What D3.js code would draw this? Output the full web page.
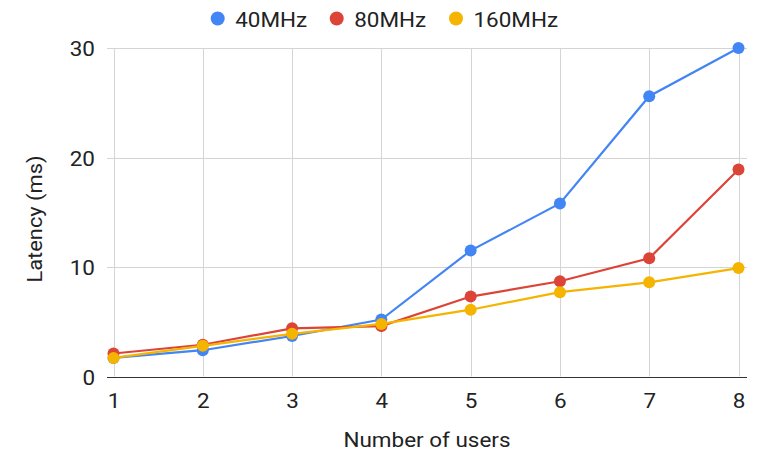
<!DOCTYPE html>
<html>
<head>
<meta charset="utf-8">
<script src="https://cdn.jsdelivr.net/npm/d3@7"></script>
<style>
  html, body { margin: 0; padding: 0; background: #fff; }
  svg { display: block; font-family: Roboto, Arial, sans-serif; }
</style>
</head>
<body>
<svg id="chart" width="764" height="451"></svg>
<script>
// Number of users on the x axis
const users = [1, 2, 3, 4, 5, 6, 7, 8];
// Latency (ms) per channel width
const lat40 = [1.7, 2.4, 3.7, 5.2, 11.5, 15.8, 25.6, 30.0];
const lat80 = [2.1, 2.9, 4.4, 4.6, 7.3, 8.7, 10.8, 18.9];
const lat160 = [1.7, 2.8, 3.9, 4.8, 6.1, 7.7, 8.6, 9.9];
const seriesNames = ["40MHz", "80MHz", "160MHz"];
const seriesColors = ["#4285f4", "#db4437", "#f4b400"];
const yTicks = [0, 10, 20, 30];

const series = [lat40, lat80, lat160].map((vals, i) => ({
  name: seriesNames[i], color: seriesColors[i],
  points: users.map((u, j) => ({ x: u, y: vals[j] }))
}));

const FONT = 21;
const STRETCH = "scale(1.07,1)";
const TEXT = "#222";

const svg = d3.select("#chart");
const plot = { left: 107, right: 747, top: 48, bottom: 376.5 };

const x = d3.scaleLinear().domain([1, 8]).range([113.5, 738.5]);
const y = d3.scaleLinear().domain([0, 30]).range([plot.bottom, plot.top]);

// Horizontal gridlines
svg.append("g")
  .selectAll("line")
  .data(yTicks.filter(t => t !== 0))
  .join("line")
  .attr("x1", plot.left).attr("x2", plot.right)
  .attr("y1", d => Math.round(y(d)) + 0.5).attr("y2", d => Math.round(y(d)) + 0.5)
  .attr("stroke", "#d4d4d4").attr("stroke-width", 1);

// Vertical gridlines
svg.append("g")
  .selectAll("line")
  .data(users)
  .join("line")
  .attr("x1", d => Math.round(x(d)) + 0.5).attr("x2", d => Math.round(x(d)) + 0.5)
  .attr("y1", plot.top).attr("y2", plot.bottom)
  .attr("stroke", "#d4d4d4").attr("stroke-width", 1);

// Baseline
svg.append("line")
  .attr("x1", plot.left).attr("x2", plot.right)
  .attr("y1", Math.round(y(0)) + 0.5).attr("y2", Math.round(y(0)) + 0.5)
  .attr("stroke", "#333").attr("stroke-width", 1);

// Y tick labels
const yAxis = d3.axisLeft(y).tickValues(yTicks).tickSize(0).tickPadding(0);
const yg = svg.append("g").attr("transform", "translate(95,0)").call(yAxis);
yg.select(".domain").remove();
yg.selectAll("text")
  .attr("x", 0).attr("dy", "0.36em")
  .attr("transform", STRETCH)
  .attr("font-size", FONT).attr("fill", TEXT).attr("font-family", "Roboto, Arial, sans-serif");

// X tick labels
const xAxis = d3.axisBottom(x).tickValues(users).tickFormat(d3.format("d")).tickSize(0).tickPadding(0);
const xg = svg.append("g").attr("transform", "translate(0,407.5)").call(xAxis);
xg.select(".domain").remove();
xg.selectAll("text")
  .attr("y", 0).attr("dy", 0)
  .attr("transform", STRETCH)
  .attr("font-size", FONT).attr("fill", TEXT).attr("font-family", "Roboto, Arial, sans-serif");

// Axis titles
svg.append("g").attr("transform", "translate(427,446.5)")
  .append("text")
  .attr("transform", STRETCH)
  .attr("text-anchor", "middle").attr("font-size", FONT).attr("fill", TEXT)
  .text("Number of users");
svg.append("g").attr("transform", "translate(42,219) rotate(-90)")
  .append("text")
  .attr("transform", "scale(1.04,1)")
  .attr("text-anchor", "middle").attr("font-size", FONT).attr("fill", TEXT)
  .text("Latency (ms)");

// Lines and markers
const line = d3.line().x(d => x(d.x)).y(d => y(d.y));
const sg = svg.append("g").selectAll("g").data(series).join("g");
sg.append("path")
  .attr("d", d => line(d.points))
  .attr("fill", "none").attr("stroke", d => d.color).attr("stroke-width", 2.2);
sg.selectAll("circle")
  .data(d => d.points.map(p => ({ ...p, color: d.color })))
  .join("circle")
  .attr("cx", d => x(d.x)).attr("cy", d => y(d.y)).attr("r", 6)
  .attr("fill", d => d.color);

// Legend
const legendX = [217.7, 336.7, 456];
const lg = svg.append("g").selectAll("g").data(series).join("g")
  .attr("transform", (d, i) => `translate(${legendX[i]},18.5)`);
lg.append("circle").attr("r", 7).attr("fill", d => d.color);
lg.append("g").attr("transform", "translate(17.5,8)")
  .append("text")
  .attr("transform", STRETCH)
  .attr("font-size", FONT).attr("fill", TEXT)
  .text(d => d.name);
</script>
</body>
</html>
